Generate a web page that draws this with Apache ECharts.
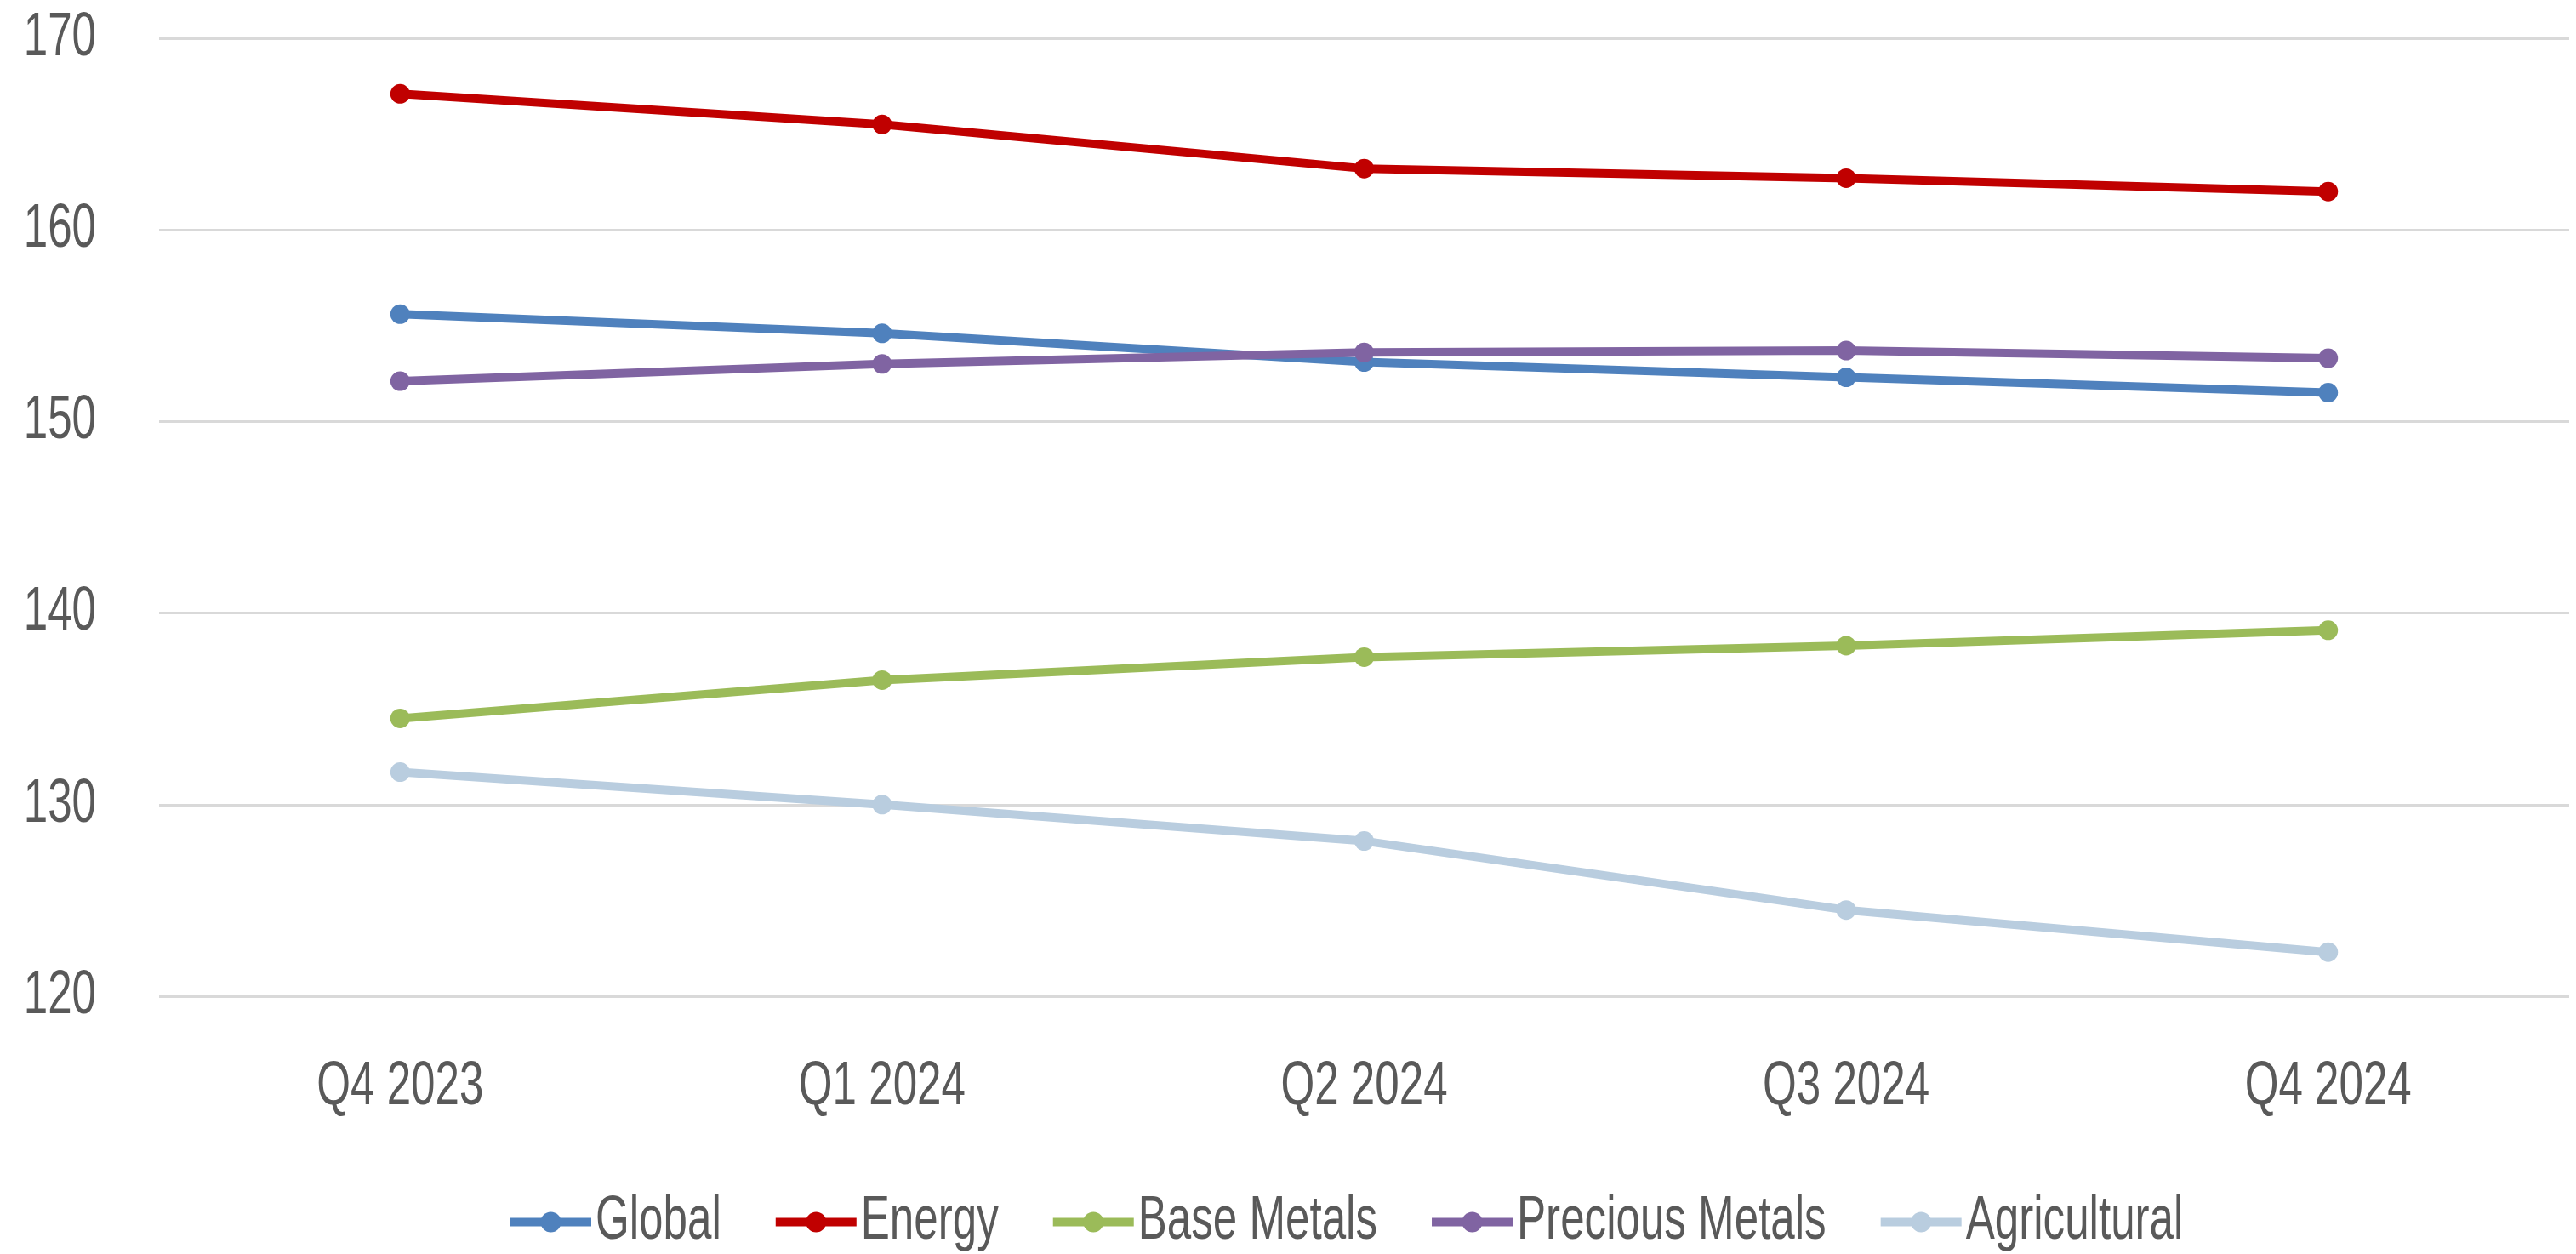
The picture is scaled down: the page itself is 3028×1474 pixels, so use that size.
<!DOCTYPE html>
<html>
<head>
<meta charset="utf-8">
<script src="https://cdn.jsdelivr.net/npm/echarts@6/dist/echarts.min.js"></script>
<style>
html,body{margin:0;padding:0;background:#fff;}
#chart{width:3028px;height:1474px;}
</style>
</head>
<body>
<div id="chart"></div>
<script>
const categories = ['Q4 2023', 'Q1 2024', 'Q2 2024', 'Q3 2024', 'Q4 2024'];
const seriesNames = ['Global', 'Energy', 'Base Metals', 'Precious Metals', 'Agricultural'];
const globalValues = [155.6, 154.6, 153.1, 152.3, 151.5];
const energyValues = [167.1, 165.5, 163.2, 162.7, 162.0];
const baseMetalsValues = [134.5, 136.5, 137.7, 138.3, 139.1];
const preciousMetalsValues = [152.1, 153.0, 153.6, 153.7, 153.3];
const agriculturalValues = [131.7, 130.0, 128.1, 124.5, 122.3];
const yTicks = [120, 130, 140, 150, 160, 170];

const colors = ['#4F81BD', '#C00000', '#9BBB59', '#8064A2', '#B9CDDF'];
const allValues = [globalValues, energyValues, baseMetalsValues, preciousMetalsValues, agriculturalValues];
const FONT = "'Liberation Sans', Arial, sans-serif";
const TXT = '#595959';
const FS = 72;

// Emulate the reference's condensed typeface: draw text narrower horizontally.
(function () {
  const S = 0.71;
  const P = CanvasRenderingContext2D.prototype;
  const origFill = P.fillText;
  const origStroke = P.strokeText;
  const origMeasure = P.measureText;
  P.fillText = function (t, x, y, mw) {
    this.save();
    this.translate(x, y);
    this.scale(S, 1);
    if (mw !== undefined) origFill.call(this, t, 0, 0, mw / S); else origFill.call(this, t, 0, 0);
    this.restore();
  };
  P.strokeText = function (t, x, y, mw) {
    this.save();
    this.translate(x, y);
    this.scale(S, 1);
    if (mw !== undefined) origStroke.call(this, t, 0, 0, mw / S); else origStroke.call(this, t, 0, 0);
    this.restore();
  };
  P.measureText = function (t) {
    const m = origMeasure.call(this, t);
    return {
      width: m.width * S,
      actualBoundingBoxLeft: m.actualBoundingBoxLeft * S,
      actualBoundingBoxRight: m.actualBoundingBoxRight * S,
      actualBoundingBoxAscent: m.actualBoundingBoxAscent,
      actualBoundingBoxDescent: m.actualBoundingBoxDescent,
      fontBoundingBoxAscent: m.fontBoundingBoxAscent,
      fontBoundingBoxDescent: m.fontBoundingBoxDescent
    };
  };
})();

const chart = echarts.init(document.getElementById('chart'), null, {renderer: 'canvas'});
const option = {
  backgroundColor: '#ffffff',
  animation: false,
  color: colors,
  grid: {left: 187, right: 8, top: 45, bottom: 303, containLabel: false},
  xAxis: {
    type: 'category',
    data: categories,
    boundaryGap: true,
    axisLine: {show: false},
    axisTick: {show: false},
    splitLine: {show: false},
    axisLabel: {
      interval: 0,
      color: TXT,
      fontFamily: FONT,
      fontSize: FS,
      margin: 82
    }
  },
  yAxis: {
    type: 'value',
    min: yTicks[0],
    max: yTicks[yTicks.length - 1],
    interval: 10,
    axisLine: {show: false},
    axisTick: {show: false},
    splitLine: {lineStyle: {color: '#D9D9D9', width: 3}},
    axisLabel: {color: TXT, fontFamily: FONT, fontSize: FS, margin: 74}
  },
  legend: {
    left: 590,
    top: 1406,
    itemWidth: 95,
    itemHeight: 30,
    itemGap: 59,
    lineStyle: {width: 10},
    textStyle: {color: TXT, fontFamily: FONT, fontSize: FS},
    data: seriesNames
  },
  series: seriesNames.map((name, i) => ({
    name: name,
    type: 'line',
    data: allValues[i],
    symbol: 'circle',
    symbolSize: 23,
    lineStyle: {width: 10, color: colors[i]},
    itemStyle: {color: colors[i]}
  }))
};
chart.setOption(option);
</script>
</body>
</html>
